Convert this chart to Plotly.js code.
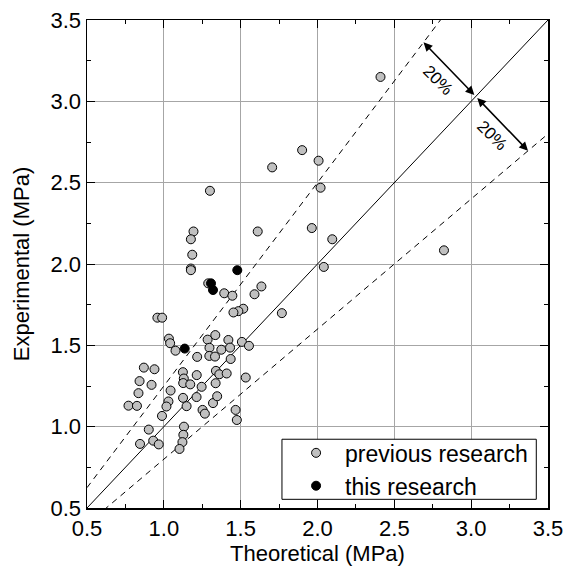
<!DOCTYPE html>
<html>
<head>
<meta charset="utf-8">
<script src="https://cdn.plot.ly/plotly-3.0.1.min.js"></script>
<style>html,body{margin:0;padding:0;background:#fff;}#chart{width:566px;height:570px;}</style>
</head>
<body>
<div id="chart"></div>
<script>
// Previous research (Theoretical, Experimental) in MPa
var prevX = [2.41, 1.90, 2.007, 1.705, 2.02, 1.30, 1.963, 1.611, 1.193, 2.096, 1.176, 1.185, 1.176, 1.176, 2.041, 2.823,
  1.289, 1.393, 1.446, 1.635, 1.59, 1.517, 1.485, 1.453, 1.768, 0.958, 0.989, 1.033, 1.041, 1.076,
  1.285, 1.335, 1.42, 1.508, 1.554, 1.297, 1.374, 1.431, 1.217, 1.296, 1.333, 1.435,
  0.87, 0.939, 0.842, 0.92, 0.835, 1.044, 0.77, 0.825, 1.03, 1.017, 0.988, 1.124, 1.13, 1.126, 1.172,
  1.214, 1.246, 1.213, 1.125, 1.148, 1.252, 1.267, 1.32, 1.347, 1.339, 1.361, 1.409, 1.337, 1.533,
  1.467, 1.475, 0.902, 0.845, 0.931, 0.967, 1.131, 1.127, 1.121, 1.102];
var prevY = [3.15, 2.70, 2.635, 2.594, 2.469, 2.45, 2.221, 2.20, 2.20, 2.152, 2.152, 2.057, 1.972, 1.962, 1.982, 2.084,
  1.881, 1.82, 1.805, 1.862, 1.814, 1.725, 1.71, 1.702, 1.698, 1.67, 1.67, 1.541, 1.513, 1.467,
  1.535, 1.563, 1.533, 1.521, 1.497, 1.485, 1.473, 1.486, 1.429, 1.435, 1.431, 1.416,
  1.363, 1.353, 1.28, 1.257, 1.206, 1.222, 1.129, 1.128, 1.155, 1.124, 1.066, 1.335, 1.296, 1.268, 1.26,
  1.317, 1.245, 1.182, 1.177, 1.126, 1.103, 1.08, 1.145, 1.187, 1.343, 1.322, 1.327, 1.267, 1.302,
  1.103, 1.041, 0.982, 0.894, 0.914, 0.891, 1.0, 0.95, 0.905, 0.863];
// This research
var thisX = [1.478, 1.307, 1.32, 1.136];
var thisY = [1.962, 1.881, 1.84, 1.48];

// Reference lines y = k*x
var lineRange = [0.5, 3.5];
var ratios = [1, 1.25, 0.8];
var lineDash = ['solid', '6px,5px', '6px,5px'];

// Deviation arrows (centre on y=x, ends on the +/-20% lines)
var arrowCentre = [3.03, 3.03];
var arrowUpper = [2.69, 3.3625];
var arrowLower = [3.37, 2.696];
var arrowLabels = ['20%', '20%'];
var labelPos = [[2.785, 3.13], [3.135, 2.79]];

var font = 'Liberation Sans, Arial, Helvetica, sans-serif';
var traces = [];
ratios.forEach(function (k, i) {
  traces.push({
    x: lineRange.slice(), y: lineRange.map(function (v) { return v * k; }),
    mode: 'lines', type: 'scatter', showlegend: false, hoverinfo: 'skip',
    line: {color: 'black', width: 1, dash: lineDash[i]}
  });
});
traces.push({
  x: prevX, y: prevY, mode: 'markers', type: 'scatter', name: 'previous research',
  marker: {color: '#c0c0c0', size: 9, line: {color: 'black', width: 1}}
});
traces.push({
  x: thisX, y: thisY, mode: 'markers', type: 'scatter', name: 'this research',
  marker: {color: 'black', size: 9, line: {color: 'black', width: 1}}
});

var annotations = [];
[arrowUpper, arrowLower].forEach(function (p) {
  annotations.push({
    x: p[0], y: p[1], ax: arrowCentre[0], ay: arrowCentre[1],
    xref: 'x', yref: 'y', axref: 'x', ayref: 'y', text: '',
    showarrow: true, arrowside: 'end+start', arrowhead: 2, arrowsize: 1.1,
    arrowwidth: 1.6, arrowcolor: 'black', standoff: 0, startstandoff: 0
  });
});
arrowLabels.forEach(function (t, i) {
  annotations.push({
    x: labelPos[i][0], y: labelPos[i][1], xref: 'x', yref: 'y', text: t,
    showarrow: false, textangle: 45, font: {family: font, size: 17, color: 'black'}
  });
});

function axis(title, standoff) {
  return {
    range: [0.5, 3.5], dtick: 0.5, tick0: 0.5, tickformat: '.1f',
    ticks: 'inside', ticklen: 8, tickwidth: 1, tickcolor: 'black',
    showline: true, linecolor: 'black', linewidth: 1.5, mirror: 'ticks',
    showgrid: true, gridcolor: '#a6a6a6', gridwidth: 1, zeroline: false,
    minor: {dtick: 0.25, tick0: 0.5, ticks: 'inside', ticklen: 4, tickcolor: 'black', tickwidth: 1, showgrid: false},
    tickfont: {family: font, size: 22, color: 'black'},
    title: {text: title, font: {family: font, size: 22, color: 'black'}, standoff: standoff},
    automargin: false, fixedrange: true
  };
}

var layout = {
  width: 566, height: 570,
  margin: {l: 87, r: 18, t: 20, b: 62},
  paper_bgcolor: 'white', plot_bgcolor: 'white',
  font: {family: font, color: 'black'},
  xaxis: axis('Theoretical (MPa)', 0),
  yaxis: axis('Experimental (MPa)', 15),
  showlegend: true,
  legend: {x: 0.434, xanchor: 'left', y: 0.157, yanchor: 'top',
    bgcolor: 'rgba(0,0,0,0)', borderwidth: 0,
    font: {family: font, size: 23, color: 'black'}, itemwidth: 48, tracegroupgap: 0},
  shapes: [{type: 'rect', xref: 'paper', yref: 'paper', x0: 0.4229, x1: 0.9746, y0: 0.0178, y1: 0.1409,
    line: {color: 'black', width: 1}, fillcolor: 'white', layer: 'above'}],
  annotations: annotations
};

Plotly.newPlot('chart', traces, layout, {displayModeBar: false, staticPlot: true});
</script>
</body>
</html>
